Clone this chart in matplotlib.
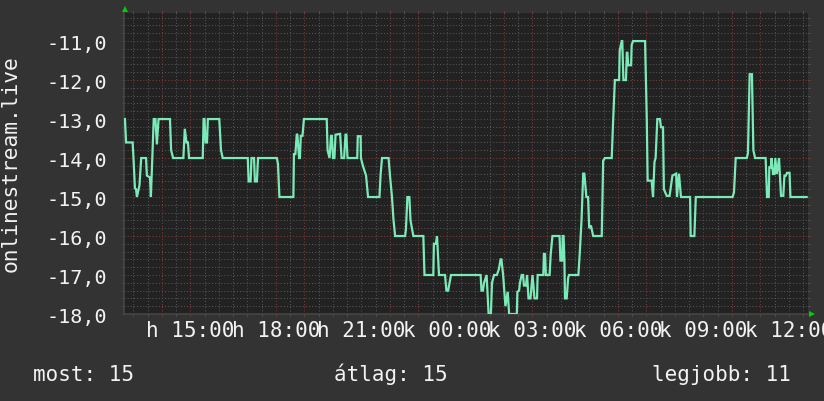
import matplotlib
matplotlib.use("Agg")
import matplotlib.pyplot as plt
import numpy as np

# ---- data (hours since Monday 00:00, value) ----
hours = [12.70, 12.74, 12.97, 13.00, 13.05, 13.09, 13.12, 13.21, 13.27, 13.44,
         13.47, 13.58, 13.61, 13.71, 13.77, 13.82, 13.88, 14.28, 14.32, 14.39,
         14.75, 14.80, 14.86, 14.91, 14.95, 15.43, 15.46, 15.49, 15.53, 15.58,
         15.61, 16.01, 16.07, 16.13, 17.01, 17.04, 17.11, 17.14, 17.23, 17.26,
         17.33, 17.37, 18.03, 18.07, 18.12, 18.61, 18.63, 18.68, 18.73, 18.75,
         18.81, 18.84, 18.87, 18.93, 18.98, 19.78, 19.81, 19.88, 19.93, 19.96,
         20.00, 20.05, 20.09, 20.25, 20.30, 20.39, 20.44, 20.47, 20.51, 20.85,
         20.87, 20.97, 20.98, 21.05, 21.16, 21.23, 21.63, 21.67, 21.72, 21.95,
         22.00, 22.07, 22.12, 22.18, 22.53, 22.56, 22.61, 22.68, 22.72, 22.77,
         22.82, 23.17, 23.21, 23.52, 23.54, 23.61, 23.65, 23.72, 23.93, 23.98,
         24.04, 24.09, 24.14, 25.18, 25.21, 25.26, 25.30, 25.39, 25.46, 25.54,
         25.58, 25.65, 25.75, 25.82, 25.88, 25.91, 25.97, 26.05, 26.13, 26.18,
         26.45, 26.47, 26.53, 26.56, 26.62, 26.67, 26.70, 26.77, 26.81, 26.86,
         26.93, 27.00, 27.07, 27.16, 27.18, 27.38, 27.40, 27.44, 27.47, 27.60,
         27.64, 27.70, 27.95, 27.98, 28.04, 28.06, 28.09, 28.12, 28.14, 28.20,
         28.25, 28.28, 28.61, 28.66, 28.72, 28.78, 28.82, 28.89, 28.95, 28.99,
         29.05, 29.13, 29.43, 29.48, 29.54, 29.78, 29.83, 29.89, 30.04, 30.06,
         30.13, 30.15, 30.19, 30.28, 30.31, 30.33, 30.36, 30.46, 30.48, 30.53,
         30.95, 31.01, 31.04, 31.18, 31.23, 31.28, 31.32, 31.38, 31.47, 31.51,
         31.58, 31.61, 31.71, 31.81, 31.91, 32.04, 32.07, 32.14, 32.21, 32.53,
         32.55, 32.68, 32.73, 34.02, 34.07, 34.13, 34.52, 34.56, 34.62, 34.70,
         34.75, 34.81, 35.18, 35.23, 35.29, 35.31, 35.36, 35.39, 35.44, 35.49,
         35.52, 35.57, 35.61, 35.65, 35.72, 35.80, 35.84, 35.89, 35.93, 36.02,
         36.05, 36.62]

values = [-13.0, -13.6, -13.6, -14.0, -14.77, -14.8, -15.0, -14.7, -14.0, -14.0,
          -14.45, -14.5, -15.0, -13.0, -13.0, -13.65, -13.0, -13.0, -13.8, -14.0,
          -14.0, -13.25, -13.6, -13.6, -14.0, -14.0, -13.0, -13.0, -13.6, -13.6,
          -13.0, -13.0, -13.8, -14.0, -14.0, -14.6, -14.6, -14.0, -14.0, -14.6,
          -14.6, -14.0, -14.0, -14.15, -15.0, -15.0, -13.9, -13.9, -13.38, -13.4,
          -14.0, -14.0, -13.43, -13.43, -13.0, -13.0, -13.8, -14.0, -13.43, -13.43,
          -14.0, -14.0, -13.4, -13.38, -14.0, -14.0, -13.4, -13.4, -14.0, -14.0,
          -13.44, -13.44, -14.0, -14.2, -14.45, -15.0, -15.0, -14.43, -14.0, -14.0,
          -14.45, -15.0, -15.56, -16.0, -16.0, -15.82, -15.0, -15.0, -15.6, -15.8,
          -16.0, -16.0, -17.0, -17.0, -16.2, -16.2, -16.0, -17.0, -17.0, -17.4,
          -17.4, -17.2, -17.0, -17.0, -17.4, -17.4, -17.2, -17.0, -18.0, -18.0,
          -17.2, -17.0, -17.0, -16.85, -16.6, -16.6, -17.0, -17.8, -17.43, -18.0,
          -18.0, -17.43, -17.4, -17.2, -17.0, -17.0, -17.27, -17.27, -17.0, -17.6,
          -17.6, -17.0, -17.6, -17.6, -17.0, -17.0, -16.46, -16.46, -17.0, -17.0,
          -16.46, -16.0, -16.0, -16.63, -16.63, -16.0, -16.0, -16.63, -17.6, -17.6,
          -17.08, -17.0, -17.0, -16.42, -15.6, -14.4, -14.4, -15.0, -15.0, -15.8,
          -15.73, -16.0, -16.0, -14.07, -14.0, -14.0, -13.04, -12.0, -12.0, -11.25,
          -11.0, -11.0, -12.0, -12.0, -11.3, -11.3, -11.62, -11.62, -11.1, -11.0,
          -11.0, -13.0, -14.58, -14.58, -15.0, -14.1, -14.0, -13.0, -13.0, -13.21,
          -13.21, -14.8, -14.97, -14.97, -14.45, -14.4, -15.0, -14.4, -15.0, -15.0,
          -16.0, -16.0, -15.0, -15.0, -14.88, -14.0, -14.0, -13.87, -11.85, -11.85,
          -13.8, -14.0, -14.0, -15.0, -15.0, -14.24, -14.24, -14.0, -14.41, -14.41,
          -14.0, -14.41, -14.24, -14.0, -14.97, -14.97, -14.45, -14.45, -14.38, -14.38,
          -15.0, -15.0]

tick_hours = [15, 18, 21, 24, 27, 30, 33, 36]
tick_labels = ["h 15:00", "h 18:00", "h 21:00", "k 00:00",
               "k 03:00", "k 06:00", "k 09:00", "k 12:00"]
y_ticks = [-18, -17, -16, -15, -14, -13, -12, -11]
y_label = "onlinestream.live"
legend_items = ["most: 15", "átlag: 15", "legjobb: 11"]

# ---- style ----
FIG_BG = "#333333"
AX_BG = "#222222"
LINE = "#7ceab8"
MAJ = "#823b3b"
MINC = "#575757"
TXT = "#f2f2f2"
FONT = "DejaVu Sans Mono"

fig = plt.figure(figsize=(8.24, 4.02), dpi=100, facecolor=FIG_BG)
ax = fig.add_axes([124/824, 1-315/402, 684/824, 301/402])
ax.set_facecolor(AX_BG)

ax.set_xlim(12.667, 36.667)
ax.set_ylim(-18, -10.28)

# grid ticks
maj_x = np.arange(13, 37)
min_x = np.arange(12.5, 37, 1.0)
min_x = min_x[(min_x > 12.667) & (min_x < 36.667)]
lab_map = dict(zip(tick_hours, tick_labels))
ax.set_xticks(maj_x)
ax.set_xticklabels([lab_map.get(int(h), "") for h in maj_x])
ax.set_xticks(min_x, minor=True)

ymin_ticks = np.round(np.arange(-18, -10.2, 0.2), 1)
ymin_ticks = [t for t in ymin_ticks if abs(t - round(t)) > 1e-6]
ax.set_yticks(y_ticks)
ax.set_yticklabels([f"{v:.1f}".replace(".", ",") for v in y_ticks])
ax.set_yticks(ymin_ticks, minor=True)

ax.grid(True, which="minor", color=MINC, linestyle=(0, (1, 2)), linewidth=0.75)
ax.grid(True, which="major", color=MAJ, linestyle=(0, (1, 2)), linewidth=0.75)
ax.set_axisbelow(True)

ax.tick_params(which="major", direction="out", length=1.5, width=0.75, color=MAJ,
               top=True, right=True, labelcolor=TXT)
ax.tick_params(which="minor", direction="out", length=1.5, width=0.75, color=MINC,
               top=True, right=True)
ax.tick_params(axis="x", which="major", pad=3.0, labelsize=15)
ax.tick_params(axis="y", which="major", pad=10.8, labelsize=14.5)
for lbl in ax.get_xticklabels() + ax.get_yticklabels():
    lbl.set_fontfamily(FONT)

for s in ["top", "right"]:
    ax.spines[s].set_visible(False)
for s in ["left", "bottom"]:
    ax.spines[s].set_color("#454545")
    ax.spines[s].set_linewidth(1.2)

ax.plot(hours, values, color=LINE, linewidth=1.6, solid_joinstyle="miter", zorder=3)

# axis arrows
ax.plot([0.0015], [1.013], marker="^", markersize=5, color="#00d000",
        transform=ax.transAxes, clip_on=False, markeredgewidth=0)
ax.plot([1.0065], [0.0], marker=">", markersize=5, color="#00d000",
        transform=ax.transAxes, clip_on=False, markeredgewidth=0)

# y label
fig.text(11/824, 1-164/402, y_label, rotation=90, ha="center", va="center",
         color=TXT, fontsize=15.3, fontfamily=FONT)

# footer
xs = [33/824, 334/824, 652/824]
for x, t in zip(xs, legend_items):
    fig.text(x, 1-381/402, t, ha="left", va="baseline", color=TXT,
             fontsize=15, fontfamily=FONT)

fig.savefig("out.png", dpi=100, facecolor=FIG_BG)
